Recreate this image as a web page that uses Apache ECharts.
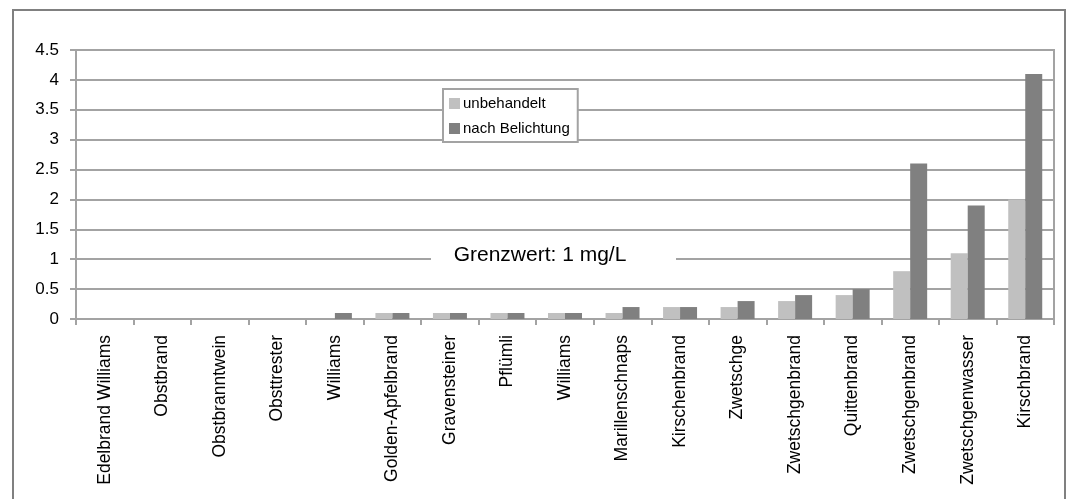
<!DOCTYPE html>
<html>
<head>
<meta charset="utf-8">
<script src="https://cdn.jsdelivr.net/npm/echarts@6/dist/echarts.min.js"></script>
<style>
  html, body { margin: 0; padding: 0; background: #fff; }
  #chart { width: 1072px; height: 499px; }
</style>
</head>
<body>
<div id="chart"></div>
<script>
// Spirituosen: Messwerte unbehandelt und nach Belichtung (mg/L)
const categories = [
  'Edelbrand Williams', 'Obstbrand', 'Obstbranntwein', 'Obsttrester', 'Williams',
  'Golden-Apfelbrand', 'Gravensteiner', 'Pflümli', 'Williams', 'Marillenschnaps',
  'Kirschenbrand', 'Zwetschge', 'Zwetschgenbrand', 'Quittenbrand', 'Zwetschgenbrand',
  'Zwetschgenwasser', 'Kirschbrand'
];
const unbehandelt = [0, 0, 0, 0, 0, 0.1, 0.1, 0.1, 0.1, 0.1, 0.2, 0.2, 0.3, 0.4, 0.8, 1.1, 2.0];
const nachBelichtung = [0, 0, 0, 0, 0.1, 0.1, 0.1, 0.1, 0.1, 0.2, 0.2, 0.3, 0.4, 0.5, 2.6, 1.9, 4.1];
const seriesNames = ['unbehandelt', 'nach Belichtung'];
const limitText = 'Grenzwert: 1 mg/L';

const font = "'Liberation Sans', Arial, sans-serif";
const lineGray = '#a3a3a3';

const chart = echarts.init(document.getElementById('chart'), null, { renderer: 'canvas' });
chart.setOption({
  backgroundColor: '#ffffff',
  animation: false,
  grid: {
    left: 76, right: 18, top: 50, bottom: 180,
    show: true, borderColor: lineGray, borderWidth: 2, backgroundColor: 'transparent'
  },
  legend: {
    orient: 'vertical',
    left: 443, top: 89,
    padding: [7, 8, 6, 6],
    itemGap: 10,
    itemWidth: 11, itemHeight: 11,
    borderColor: lineGray, borderWidth: 2,
    backgroundColor: '#fff',
    icon: 'rect',
    textStyle: { fontFamily: font, fontSize: 15, color: '#000', padding: [0, 0, 0, -2] },
    data: seriesNames
  },
  xAxis: {
    type: 'category',
    data: categories,
    axisLine: { lineStyle: { color: lineGray, width: 2 } },
    axisTick: { show: true, length: 6, lineStyle: { color: lineGray, width: 2 } },
    axisLabel: {
      interval: 0, rotate: 90, margin: 16,
      fontFamily: font, fontSize: 17.5, color: '#000'
    },
    splitLine: { show: false }
  },
  yAxis: {
    type: 'value',
    min: 0, max: 4.5, interval: 0.5,
    axisLine: { show: true, lineStyle: { color: lineGray, width: 2 } },
    axisTick: { show: true, length: 6, lineStyle: { color: lineGray, width: 2 } },
    axisLabel: { margin: 17, fontFamily: font, fontSize: 17, color: '#000' },
    splitLine: { show: true, lineStyle: { color: lineGray, width: 2 } }
  },
  series: [
    {
      name: seriesNames[0], type: 'bar', data: unbehandelt,
      barWidth: 17, barGap: '0%',
      itemStyle: { color: '#c0c0c0' }
    },
    {
      name: seriesNames[1], type: 'bar', data: nachBelichtung,
      barWidth: 17, barGap: '0%',
      itemStyle: { color: '#808080' }
    }
  ],
  graphic: [
    {
      type: 'rect', z: 100, silent: true,
      shape: { x: 13, y: 10, width: 1052, height: 500 },
      style: { fill: 'none', stroke: '#808080', lineWidth: 2 }
    },
    {
      type: 'rect', z: 60, silent: true,
      shape: { x: 431, y: 231, width: 245, height: 57 },
      style: { fill: '#ffffff' }
    },
    {
      type: 'text', z: 61, silent: true,
      x: 540, y: 255,
      style: {
        text: limitText, fontFamily: font, fontSize: 21, fill: '#000',
        align: 'center', verticalAlign: 'middle'
      }
    }
  ]
});
</script>
</body>
</html>
